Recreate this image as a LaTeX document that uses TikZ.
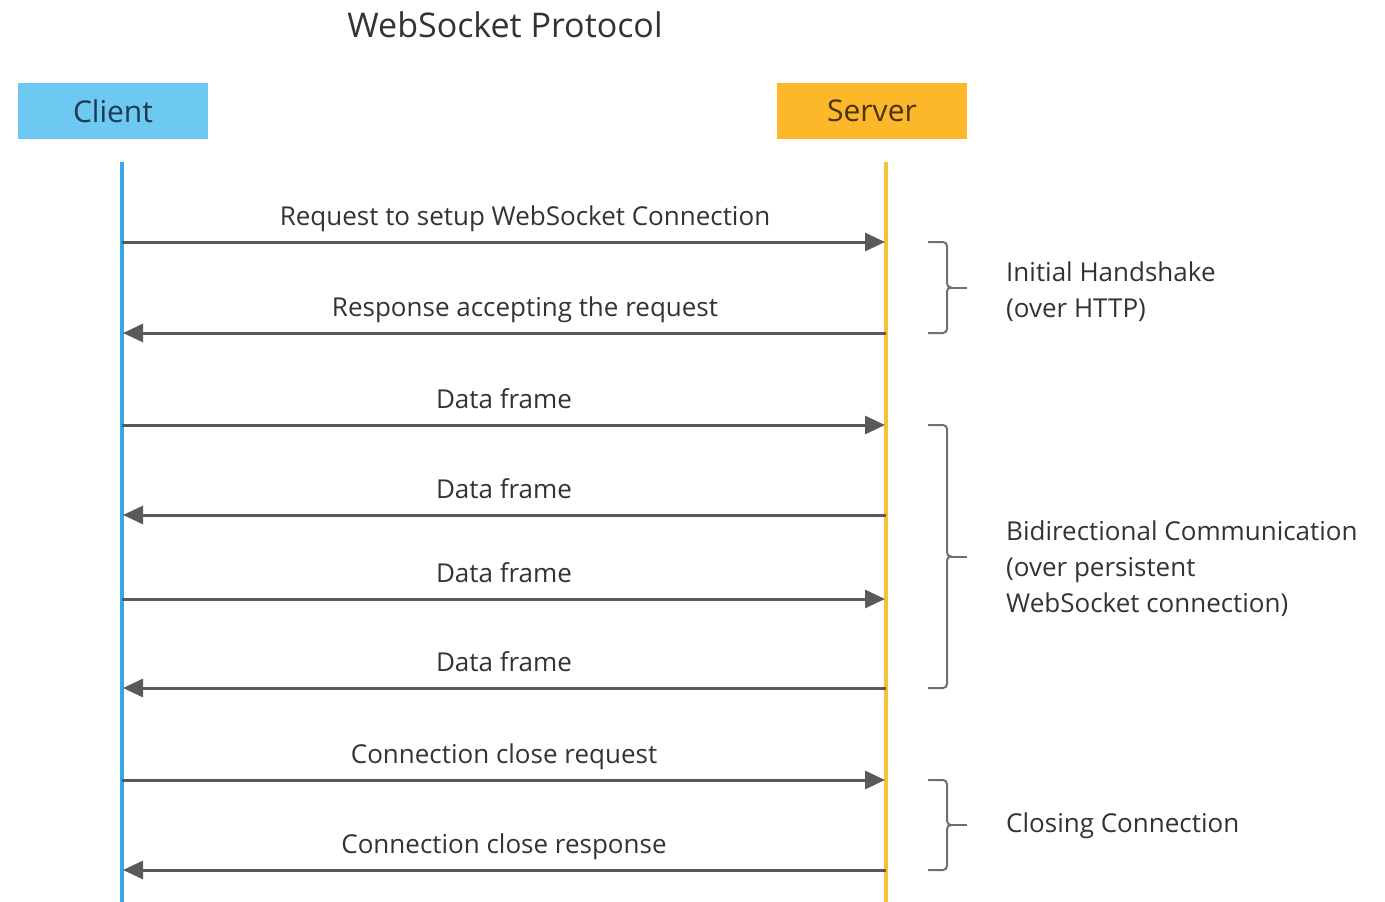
\documentclass[tikz,border=0pt]{standalone}
\usepackage{fontspec}
\setmainfont{Open Sans}
\usetikzlibrary{arrows.meta,positioning}
\definecolor{clientfill}{HTML}{6DC8F2}
\definecolor{clienttext}{HTML}{1D3A52}
\definecolor{serverfill}{HTML}{FCB72B}
\definecolor{servertext}{HTML}{4A3410}
\definecolor{clientline}{HTML}{38A9DE}
\definecolor{serverline}{HTML}{F8C03A}
\definecolor{msggray}{HTML}{5A5A5A}
\definecolor{txtgray}{HTML}{333333}
\definecolor{bracegray}{HTML}{707070}

\begin{document}
\begin{tikzpicture}[x=1pt,y=-1pt,
  actor/.style={minimum width=190pt,minimum height=56pt,inner sep=0pt,font=\fontsize{30}{34}\selectfont},
  lifeline/.style={line width=4pt},
  msg/.style={draw=msggray,line width=3pt,shorten >=1pt,-{Triangle[length=20pt,width=18pt]}},
  lbl/.style={font=\fontsize{26}{30}\selectfont,text=txtgray,anchor=base,yshift=17pt},
  note/.style={font=\fontsize{26}{36}\selectfont,text=txtgray,align=left,anchor=west,inner sep=0pt},
  bracket/.style={draw=bracegray,line width=2pt}]
   \useasboundingbox (0,0) rectangle (1385,902);
   \node[font=\fontsize{34}{40}\selectfont,text=txtgray] (title) at (505,25) {WebSocket Protocol};
   \node[actor,fill=clientfill,text=clienttext] (client) at (113,111) {Client};
   \node[actor,fill=serverfill,text=servertext] (server) at (872,111) {Server};
   \coordinate (ctop) at (122,162);
   \coordinate (cbot) at (122,902);
   \coordinate (stop) at (886,162);
   \coordinate (sbot) at (886,902);
   \draw[lifeline,clientline] (ctop) -- (cbot);
   \draw[lifeline,serverline] (stop) -- (sbot);
   \foreach \i/\y in {1/242,2/333,3/425,4/515,5/599,6/688,7/780,8/870}{
      \coordinate (c\i) at (122,\y);
      \coordinate (s\i) at (886,\y);
   }
   \draw[msg] (c1) -- node[lbl,xshift=21pt] {Request to setup WebSocket Connection} (s1);
   \draw[msg] (s2) -- node[lbl,xshift=21pt] {Response accepting the request} (c2);
   \draw[msg] (c3) -- node[lbl] {Data frame} (s3);
   \draw[msg] (s4) -- node[lbl] {Data frame} (c4);
   \draw[msg] (c5) -- node[lbl] {Data frame} (s5);
   \draw[msg] (s6) -- node[lbl] {Data frame} (c6);
   \draw[msg] (c7) -- node[lbl] {Connection close request} (s7);
   \draw[msg] (s8) -- node[lbl] {Connection close response} (c8);
   % brackets on the right
   \foreach \t/\b in {242/333,425/688,780/870}{
      \pgfmathsetmacro\m{(\t+\b)/2}
      \draw[bracket] (928,\t) -- (943,\t) to[out=0,in=90] (947,\t+4) -- (947,\m-4)
         to[out=-90,in=180] (951,\m) to[out=180,in=90] (947,\m+4) -- (947,\b-4)
         to[out=-90,in=0] (943,\b) -- (928,\b);
      \draw[bracket] (951,\m) -- (967,\m);
   }
   \node[note] (handshake) at (1006,292) {Initial Handshake\\(over HTTP)};
   \node[note] (bidir) at (1006,569) {Bidirectional Communication\\(over persistent\\WebSocket connection)};
   \node[note] (closing) at (1006,826) {Closing Connection};
\end{tikzpicture}
\end{document}
